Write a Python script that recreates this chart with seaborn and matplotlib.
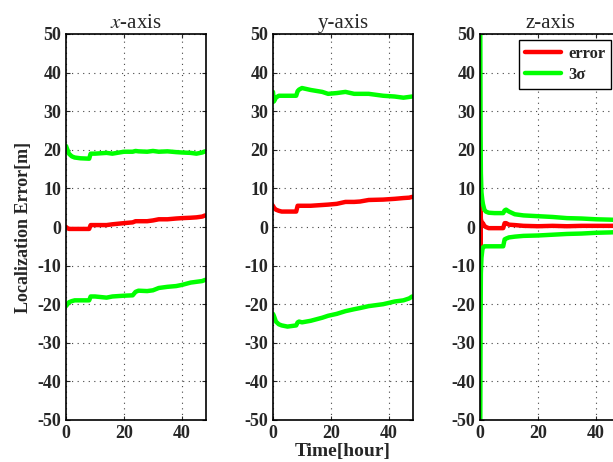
import matplotlib
matplotlib.use("Agg")
import matplotlib.pyplot as plt
import seaborn as sns

# time grids [hour] and values [m]
t_x = [0, 0.5, 1, 2, 3, 5, 8, 8.5, 10, 14, 16, 20, 23, 24, 25, 28, 30, 32, 35, 38, 40, 43, 45, 47, 48]
err_x = [0, -0.3, -0.5, -0.5, -0.5, -0.5, -0.5, 0.5, 0.5, 0.5, 0.7, 1.0, 1.2, 1.5, 1.5, 1.5, 1.7, 2.0, 2.0, 2.2, 2.3, 2.4, 2.5, 2.7, 3.0]
up_x = [21, 20, 19, 18.3, 18, 17.8, 17.7, 19, 19, 19.2, 19, 19.5, 19.5, 19.7, 19.6, 19.5, 19.7, 19.5, 19.6, 19.4, 19.3, 19.2, 19.0, 19.3, 19.6]
lo_x = [-20.5, -20, -19.5, -19.2, -19, -19, -19, -18, -18, -18.3, -18, -17.8, -17.7, -16.8, -16.5, -16.6, -16.4, -15.8, -15.5, -15.3, -15, -14.4, -14.2, -14, -13.7]

t_y = [0, 0.3, 1, 2, 3, 5, 8, 8.5, 9, 10, 13, 17, 19, 22, 25, 28, 30, 33, 38, 42, 45, 47, 48]
err_y = [5.5, 5, 4.5, 4.2, 4, 4, 4, 5.5, 5.5, 5.5, 5.5, 5.7, 5.8, 6, 6.5, 6.5, 6.6, 7, 7.1, 7.3, 7.5, 7.6, 7.8]
up_y = [35, 32.5, 33.5, 34, 34, 34, 34, 35.2, 35.6, 36, 35.5, 35, 34.5, 34.7, 35, 34.5, 34.5, 34.5, 34, 33.8, 33.5, 33.7, 33.8]
lo_y = [-22.5, -23, -24.5, -25.2, -25.5, -25.8, -25.5, -24.7, -24.5, -24.7, -24.3, -23.5, -23, -22.5, -21.8, -21.3, -21, -20.5, -20, -19.3, -19, -18.5, -18]

t_z = [0, 0.1, 0.2, 0.3, 0.5, 0.8, 1, 1.5, 2, 3, 5, 8, 8.5, 9, 10, 12, 15, 20, 25, 30, 35, 40, 45, 48]
err_z = [5.5, -6, 4, 2, 1.5, 0.5, 1, 0.3, 0, -0.3, -0.3, -0.3, 1, 1, 0.6, 0.5, 0.3, 0.2, 0.3, 0.2, 0.3, 0.3, 0.3, 0.3]
up_z = [80, 50, 25, 14, 9, 7, 6, 4.5, 4, 3.7, 3.6, 3.6, 4.3, 4.5, 4, 3.3, 3, 2.8, 2.6, 2.3, 2.2, 2, 1.9, 1.8]
lo_z = [-80, -50, -25, -12, -8, -6, -5.3, -5, -5, -5, -5, -5, -3.2, -3, -2.7, -2.5, -2.3, -2.2, -2, -1.8, -1.7, -1.5, -1.4, -1.3]

titles = ["$x$-axis", "y-axis", "z-axis"]
panels = [(t_x, err_x, up_x, lo_x), (t_y, err_y, up_y, lo_y), (t_z, err_z, up_z, lo_z)]

sns.set_style("ticks")
plt.rcParams["font.family"] = ["Liberation Serif", "DejaVu Serif"]
plt.rcParams["mathtext.fontset"] = "stix"
plt.rcParams["axes.unicode_minus"] = False

fig = plt.figure(figsize=(6.13, 4.62), dpi=100)
lefts = [66 / 613, 273 / 613, 480 / 613]

for i, (t, err, up, lo) in enumerate(panels):
    ax = fig.add_axes([lefts[i], 42 / 462, 140 / 613, 386 / 462])
    sns.lineplot(x=t, y=err, color="#ff0000", lw=3.2, ax=ax, label="error")
    sns.lineplot(x=t, y=up, color="#00ff00", lw=3.2, ax=ax, label="3σ")
    sns.lineplot(x=t, y=lo, color="#00ff00", lw=3.2, ax=ax)
    ax.set_xlim(0, 48.3)
    ax.set_ylim(-50, 50)
    ax.set_xticks([0, 20, 40])
    ax.set_yticks(range(-50, 51, 10))
    ax.grid(True, color="#444444", linestyle=(0, (1, 4)), linewidth=0.8)
    ax.tick_params(direction="in", top=True, right=True, length=3, labelsize=13)
    for lab in ax.get_xticklabels() + ax.get_yticklabels():
        lab.set_fontweight("bold")
    for s in ax.spines.values():
        s.set_color("black")
        s.set_linewidth(1.2)
    ax.set_title(titles[i], fontsize=15, pad=4)
    if i == 2:
        leg = ax.legend(loc="upper right", bbox_to_anchor=(0.936, 0.984), fancybox=False,
                        edgecolor="black", framealpha=1, prop={"weight": "bold", "size": 12},
                        handlelength=2.2, handletextpad=0.4, borderaxespad=0, borderpad=0.35,
                        labelspacing=0.3)
        leg.get_frame().set_linewidth(1.0)
    else:
        ax.get_legend().remove()
    if i == 0:
        ax.set_ylabel("Localization Error[m]", fontsize=13, fontweight="bold")
    if i == 1:
        ax.set_xlabel("Time[hour]", fontsize=14, fontweight="bold", labelpad=1)

fig.savefig("out.png", dpi=100)
